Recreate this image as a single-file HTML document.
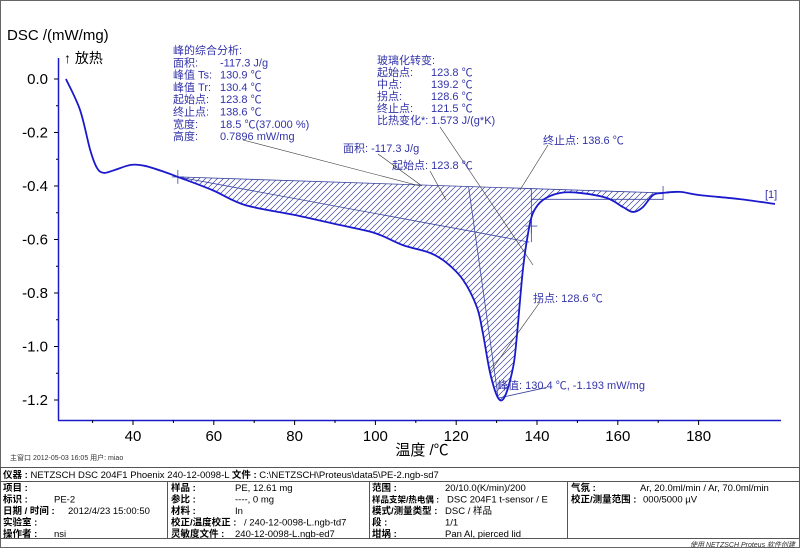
<!DOCTYPE html>
<html><head><meta charset="utf-8">
<style>
html,body{margin:0;padding:0;background:#fff;}
body{width:800px;height:548px;overflow:hidden;position:relative;font-family:"Liberation Sans","Noto Sans CJK SC",sans-serif;}
svg text{font-family:"Liberation Sans","Noto Sans CJK SC",sans-serif;}
</style></head>
<body>
<svg id="chart" width="800" height="548" viewBox="0 0 800 548" xmlns="http://www.w3.org/2000/svg">
<defs>
<pattern id="hatch" width="6" height="6" patternUnits="userSpaceOnUse">
<path d="M-1,1 L1,-1 M0,6 L6,0 M5,7 L7,5" stroke="#3a44a0" stroke-width="0.7"/>
</pattern>
</defs>
<rect x="0.5" y="0.5" width="799" height="547" fill="none" stroke="#666"/>
<text x="7" y="40" font-size="15" fill="#000">DSC /(mW/mg)</text>
<text x="64" y="63" font-size="14" fill="#000">↑ 放热</text>
<g id="axes"></g>
<g id="marks"></g>
<g id="anno" fill="#3333aa" font-size="11"></g>
<text x="422" y="455" font-size="15" text-anchor="middle" fill="#000">温度 /℃</text>
<text x="10" y="460" font-size="7" fill="#333">主窗口  2012-05-03 16:05  用户: miao</text>
<g font-size="9.5" fill="#000">
<rect x="0.5" y="467.5" width="799" height="71" fill="none" stroke="#555"/>
<line x1="0" y1="481.5" x2="800" y2="481.5" stroke="#555"/>
<line x1="167.5" y1="481" x2="167.5" y2="538" stroke="#555"/>
<line x1="369.5" y1="481" x2="369.5" y2="538" stroke="#555"/>
<line x1="567.5" y1="481" x2="567.5" y2="538" stroke="#555"/>
<text x="3" y="478"><tspan font-weight="bold">仪器 : </tspan>NETZSCH DSC 204F1 Phoenix 240-12-0098-L  <tspan font-weight="bold">文件 : </tspan>C:\NETZSCH\Proteus\data5\PE-2.ngb-sd7</text>
<text x="3" y="491" font-weight="bold">项目 :</text>
<text x="3" y="502.5" font-weight="bold">标识 :</text><text x="54" y="502.5">PE-2</text>
<text x="3" y="514" font-weight="bold">日期 / 时间 :</text><text x="68" y="514">2012/4/23 15:00:50</text>
<text x="3" y="525.5" font-weight="bold">实验室 :</text>
<text x="3" y="537" font-weight="bold">操作者 :</text><text x="54" y="537">nsi</text>
<text x="171" y="491" font-weight="bold">样品 :</text><text x="235" y="491">PE, 12.61 mg</text>
<text x="171" y="502.5" font-weight="bold">参比 :</text><text x="235" y="502.5">----, 0 mg</text>
<text x="171" y="514" font-weight="bold">材料 :</text><text x="235" y="514">In</text>
<text x="171" y="525.5" font-weight="bold">校正/温度校正 :</text><text x="244" y="525.5">/ 240-12-0098-L.ngb-td7</text>
<text x="171" y="537" font-weight="bold">灵敏度文件 :</text><text x="235" y="537">240-12-0098-L.ngb-ed7</text>
<text x="372" y="491" font-weight="bold">范围 :</text><text x="445" y="491">20/10.0(K/min)/200</text>
<text x="372" y="502.5" font-weight="bold" font-size="8.5">样品支架/热电偶 :</text><text x="447" y="502.5">DSC 204F1 t-sensor / E</text>
<text x="372" y="514" font-weight="bold">模式/测量类型 :</text><text x="445" y="514">DSC / 样品</text>
<text x="372" y="525.5" font-weight="bold">段 :</text><text x="445" y="525.5">1/1</text>
<text x="372" y="537" font-weight="bold">坩埚 :</text><text x="445" y="537">Pan Al, pierced lid</text>
<text x="571" y="491" font-weight="bold">气氛 :</text><text x="640" y="491">Ar, 20.0ml/min / Ar, 70.0ml/min</text>
<text x="571" y="502.5" font-weight="bold">校正/测量范围 :</text><text x="643" y="502.5">000/5000 µV</text>
</g>
<text x="690" y="547" font-size="7" font-style="italic" fill="#333">使用 NETZSCH Proteus 软件创建</text>
</svg>
<script>
const temps = [23.4,26.9,29.4,31.1,32.8,35.5,39.5,43.0,47.9,51.1,59.6,67.7,79.9,91.2,99.9,106.8,113.5,117.7,121.7,125.1,126.6,128.4,130.4,132.1,134.1,135.0,136.5,137.8,139.0,141.5,145.7,150.6,157.3,161.3,163.8,166.2,168.7,171.2,175.4,180.3,190.2,198.9];
const dsc = [0,-0.116,-0.265,-0.333,-0.351,-0.340,-0.321,-0.325,-0.348,-0.366,-0.415,-0.471,-0.508,-0.546,-0.576,-0.621,-0.650,-0.688,-0.751,-0.852,-0.950,-1.099,-1.193,-1.185,-1.077,-0.964,-0.714,-0.576,-0.501,-0.452,-0.426,-0.426,-0.445,-0.479,-0.497,-0.479,-0.434,-0.426,-0.422,-0.434,-0.449,-0.467];
const xTicks = [40,60,80,100,120,140,160,180];
const yTicks = [0.0,-0.2,-0.4,-0.6,-0.8,-1.0,-1.2];
const yTickLabels = ["0.0","-0.2","-0.4","-0.6","-0.8","-1.0","-1.2"];
const baseStart = [51.1,-0.366];
const baseEnd = [171.2,-0.426];
const peak = [130.4,-1.193];
const onsetT = 123.8, endT = 138.6, inflT = 128.6;

const NS = "http://www.w3.org/2000/svg";
function sx(t){return 133+(t-40)*4.04;}
function sy(v){return 79-v*267.5;}
function mk(tag,attrs,parent){const e=document.createElementNS(NS,tag);for(const k in attrs)e.setAttribute(k,attrs[k]);parent.appendChild(e);return e;}
function smooth(P){
  let d='M'+P[0][0]+','+P[0][1];
  for(let i=0;i<P.length-1;i++){
    const p0=P[Math.max(0,i-1)],p1=P[i],p2=P[i+1],p3=P[Math.min(P.length-1,i+2)];
    const c1=[p1[0]+(p2[0]-p0[0])/6,p1[1]+(p2[1]-p0[1])/6];
    const c2=[p2[0]-(p3[0]-p1[0])/6,p2[1]-(p3[1]-p1[1])/6];
    d+=' C'+c1[0]+','+c1[1]+' '+c2[0]+','+c2[1]+' '+p2[0]+','+p2[1];
  }
  return d;
}
const axes=document.getElementById('axes'), marks=document.getElementById('marks'), anno=document.getElementById('anno');

let e=mk('line',{x1:58.5,y1:58,x2:58.5,y2:420,stroke:'#1a1acc','stroke-width':1.5},axes);


e=mk('line',{x1:58,y1:420.5,x2:781,y2:420.5,stroke:'#1a1acc','stroke-width':1.5},axes);


yTicks.forEach((v,i)=>{
  const y=sy(v);
  mk('line',{x1:54,y1:y,x2:58,y2:y,stroke:'#000'},axes);
  const t=mk('text',{x:48,y:y+5,'font-size':15,'text-anchor':'end',fill:'#000'},axes);
  t.textContent=yTickLabels[i];
  
  
  const m=sy(v-0.1); if(m<420) mk('line',{x1:56,y1:m,x2:58,y2:m,stroke:'#000'},axes);
});
xTicks.forEach(v=>{
  const x=sx(v);
  mk('line',{x1:x,y1:420,x2:x,y2:425,stroke:'#000'},axes);
  mk('line',{x1:sx(v-10),y1:420,x2:sx(v-10),y2:423,stroke:'#000'},axes);
  const t=mk('text',{x:x,y:441,'font-size':15,'text-anchor':'middle',fill:'#000'},axes);
  t.textContent=v;
  
  
});

function baseAt(t){return baseStart[1]+(baseEnd[1]-baseStart[1])*(t-baseStart[0])/(baseEnd[0]-baseStart[0]);}
let inner=[];
temps.forEach((t,i)=>{if(t>=baseStart[0]&&t<=baseEnd[0])inner.push([sx(t),sy(dsc[i])]);});
let hd=smooth(inner)+' L'+sx(baseStart[0])+','+sy(baseStart[1])+' Z';
e=mk('path',{d:hd,fill:'url(#hatch)',stroke:'#3a44a0','stroke-width':0.8},marks);



const L=(a,b,c,d,n)=>{const l=mk('line',{x1:a,y1:b,x2:c,y2:d,stroke:'#3a44a0','stroke-width':0.8},marks);};
const vEnd=baseAt(endT)-0.2;
L(sx(baseStart[0]),sy(baseStart[1]),sx(endT)-2,sy(vEnd),'extrapolated-line');
L(sx(onsetT)-3,sy(baseAt(onsetT)),sx(peak[0]),sy(peak[1]),'onset-peak-line');
L(sx(endT),sy(baseAt(endT)),sx(endT),sy(vEnd),'end-vertical-line');
L(sx(endT),sy(baseAt(endT)-0.04),sx(baseEnd[0]),sy(baseAt(endT)-0.04),'end-horizontal-line');
L(sx(peak[0]),sy(peak[1]),sx(peak[0]+12),sy(peak[1]+0.04),'peak-leader');
[[baseStart[0],baseStart[1]],[baseEnd[0],baseEnd[1]],[endT,baseAt(endT)-0.14]].forEach(p=>{
  const x=sx(p[0]),y=sy(p[1]);
  L(x,y-7,x,y+7,'tick-cross');L(x-6,y,x+6,y,'tick-cross');
});

e=mk('path',{d:smooth(temps.map((t,i)=>[sx(t),sy(dsc[i])])),fill:'none',stroke:'#1a1acc','stroke-width':1.8,'stroke-linejoin':'round'},marks);



const A=(a,b,c,d)=>{const l=mk('line',{x1:a,y1:b,x2:c,y2:d,stroke:'#333','stroke-width':0.6},anno);};
A(243,140,420,186);A(378,154,422,186);A(430,171,446,200);A(440,127,533,265);A(548,145,520,190);A(540,302,490,372);

const T=(x,y,s,n)=>{const t=mk('text',{x:x,y:y},anno);t.textContent=s;};
const left=[["峰的综合分析:",""],["面积:","-117.3 J/g"],["峰值 Ts:","130.9 ℃"],["峰值 Tr:","130.4 ℃"],["起始点:","123.8 ℃"],["终止点:","138.6 ℃"],["宽度:","  18.5 ℃(37.000 %)"],["高度:","   0.7896 mW/mg"]];
left.forEach((r,i)=>{T(173,54+i*12.3,r[0],'peak-analysis-label');if(r[1]){const t=mk('text',{x:220,y:54+i*12.3,'xml:space':'preserve'},anno);t.textContent=(i==1?' ':'')+r[1];}});
const right=[["玻璃化转变:",""],["起始点:","123.8 ℃"],["中点:","139.2 ℃"],["拐点:","128.6 ℃"],["终止点:","121.5 ℃"],["比热变化*:","  1.573 J/(g*K)"]];
right.forEach((r,i)=>{T(377,64+i*12,r[0],'glass-transition-label');if(r[1]){const t=mk('text',{x:431,y:64+i*12,'xml:space':'preserve'},anno);t.textContent=r[1];}});
T(343,152,"面积: -117.3 J/g",'area-label');
T(392,169,"起始点: 123.8 ℃",'onset-label');
T(543,144,"终止点: 138.6 ℃",'endset-label');
T(533,302,"拐点: 128.6 ℃",'inflection-label');
T(497,389,"峰值: 130.4 ℃, -1.193 mW/mg",'peak-label');
T(765,198,"[1]",'curve-id-label');
</script>
</body></html>
